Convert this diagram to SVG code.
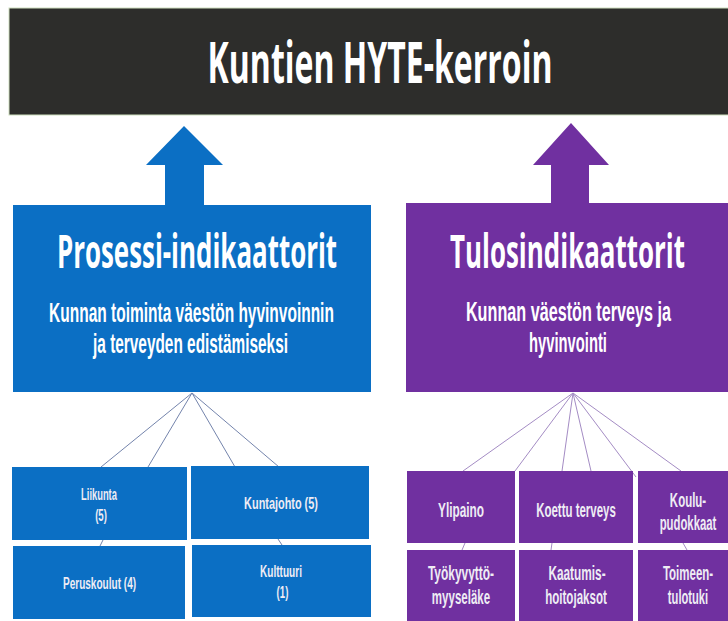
<svg xmlns="http://www.w3.org/2000/svg" width="728" height="621" viewBox="0 0 728 621">
<style>
.bg{fill:#ffffff}
.banner{fill:#2d2d2b;stroke:#cfe0bf;stroke-width:1}
.blue{fill:#0b6fc4}
.purple{fill:#7030a0}
.big{font-family:"Open Sans","Liberation Sans",sans-serif;font-weight:bold;fill:#ffffff;text-anchor:middle}
.sub{font-family:"Liberation Sans","Arial",sans-serif;font-weight:bold;fill:#ffffff;text-anchor:middle;font-size:27px}
.small{font-family:"Liberation Sans","Arial",sans-serif;font-weight:bold;fill:#eeecf4;text-anchor:middle}
.sb{font-size:17px}
.sp{font-size:21px}
.lb{stroke:#7484ac;stroke-width:1;fill:none}
.lp{stroke:#a48cc4;stroke-width:1;fill:none}
</style>
<rect class="bg" x="0" y="0" width="728" height="621"/>

<g id="banner">
<rect class="banner" x="9" y="8" width="725" height="107"/>
<text class="big" transform="translate(380,83) scale(0.55,1)" font-size="58" textLength="627" lengthAdjust="spacingAndGlyphs">Kuntien HYTE-kerroin</text>
</g>

<g id="connectors">
<polygon class="blue" points="184,126 223,165 204,165 204,206 165,206 165,165 146,165"/>
<polygon class="purple" points="571,123 609,165 589,165 589,204 551,204 551,165 533,165"/>
<path class="lb" d="M192,393 L101,467 M192,393 L148,467 M192,393 L235,467 M192,393 L279,467 M103,540 L100,546 M278,539 L282,545"/>
<path class="lp" d="M573,393 L463,471 M573,393 L515,471 M573,393 L562,471 M573,393 L591,471 M573,393 L636,477 M573,393 L681,471 M465,543 L462,550 M552,543 L551,550 M683,543 L687,550"/>
</g>

<g id="prosessi">
<rect class="blue" x="13" y="205" width="358" height="187"/>
<text class="big" transform="translate(197,268) scale(0.556,1)" font-size="46" textLength="504" lengthAdjust="spacingAndGlyphs">Prosessi-indikaattorit</text>
<text class="sub" transform="translate(191.5,322) scale(0.573,1)" textLength="497" lengthAdjust="spacingAndGlyphs">Kunnan toiminta väestön hyvinvoinnin</text>
<text class="sub" transform="translate(190.5,353) scale(0.57,1)" textLength="342" lengthAdjust="spacingAndGlyphs">ja terveyden edistämiseksi</text>
</g>

<g id="tulos">
<rect class="purple" x="406" y="203" width="330" height="189"/>
<text class="big" transform="translate(567.5,268) scale(0.557,1)" font-size="46" textLength="422" lengthAdjust="spacingAndGlyphs">Tulosindikaattorit</text>
<text class="sub" transform="translate(568.5,321) scale(0.6,1)" textLength="342" lengthAdjust="spacingAndGlyphs">Kunnan väestön terveys ja</text>
<text class="sub" transform="translate(568,352) scale(0.547,1)" textLength="142.5" lengthAdjust="spacingAndGlyphs">hyvinvointi</text>
</g>

<g id="liikunta">
<rect class="blue" x="12" y="467" width="175" height="73"/>
<text class="small sb" transform="translate(99,500) scale(0.56,1)" textLength="64" lengthAdjust="spacingAndGlyphs">Liikunta</text>
<text class="small sb" transform="translate(101,521) scale(0.56,1)" textLength="21" lengthAdjust="spacingAndGlyphs">(5)</text>
</g>
<g id="kuntajohto">
<rect class="blue" x="191" y="466" width="178" height="73"/>
<text class="small sb" transform="translate(281,509) scale(0.6,1)" textLength="123" lengthAdjust="spacingAndGlyphs">Kuntajohto (5)</text>
</g>
<g id="peruskoulut">
<rect class="blue" x="13" y="546" width="172" height="73"/>
<text class="small sb" transform="translate(99.5,589) scale(0.59,1)" textLength="124" lengthAdjust="spacingAndGlyphs">Peruskoulut (4)</text>
</g>
<g id="kulttuuri">
<rect class="blue" x="192" y="545" width="179" height="72"/>
<text class="small sb" transform="translate(281,577) scale(0.59,1)" textLength="71" lengthAdjust="spacingAndGlyphs">Kulttuuri</text>
<text class="small sb" transform="translate(282.5,598) scale(0.59,1)" textLength="20" lengthAdjust="spacingAndGlyphs">(1)</text>
</g>

<g id="ylipaino">
<rect class="purple" x="407" y="471" width="108" height="72"/>
<text class="small sp" transform="translate(461,517) scale(0.56,1)" textLength="82" lengthAdjust="spacingAndGlyphs">Ylipaino</text>
</g>
<g id="koettu">
<rect class="purple" x="519" y="471" width="114" height="72"/>
<text class="small sp" transform="translate(576,517) scale(0.55,1)" textLength="145" lengthAdjust="spacingAndGlyphs">Koettu terveys</text>
</g>
<g id="koulupudokkaat">
<rect class="purple" x="638" y="471" width="100" height="72"/>
<text class="small sp" transform="translate(688,507) scale(0.55,1)" textLength="66" lengthAdjust="spacingAndGlyphs">Koulu-</text>
<text class="small sp" transform="translate(688,530) scale(0.54,1)" textLength="105" lengthAdjust="spacingAndGlyphs">pudokkaat</text>
</g>
<g id="tyokyvyttomyys">
<rect class="purple" x="407" y="550" width="108" height="75"/>
<text class="small sp" transform="translate(461,580) scale(0.56,1)" textLength="118" lengthAdjust="spacingAndGlyphs">Työkyvyttö-</text>
<text class="small sp" transform="translate(461,604) scale(0.55,1)" textLength="106" lengthAdjust="spacingAndGlyphs">myyseläke</text>
</g>
<g id="kaatumis">
<rect class="purple" x="519" y="550" width="114" height="75"/>
<text class="small sp" transform="translate(577,580) scale(0.56,1)" textLength="102" lengthAdjust="spacingAndGlyphs">Kaatumis-</text>
<text class="small sp" transform="translate(576,604) scale(0.55,1)" textLength="112" lengthAdjust="spacingAndGlyphs">hoitojaksot</text>
</g>
<g id="toimeentulotuki">
<rect class="purple" x="638" y="550" width="100" height="75"/>
<text class="small sp" transform="translate(688,580) scale(0.54,1)" textLength="93" lengthAdjust="spacingAndGlyphs">Toimeen-</text>
<text class="small sp" transform="translate(688,604) scale(0.53,1)" textLength="76" lengthAdjust="spacingAndGlyphs">tulotuki</text>
</g>
</svg>
